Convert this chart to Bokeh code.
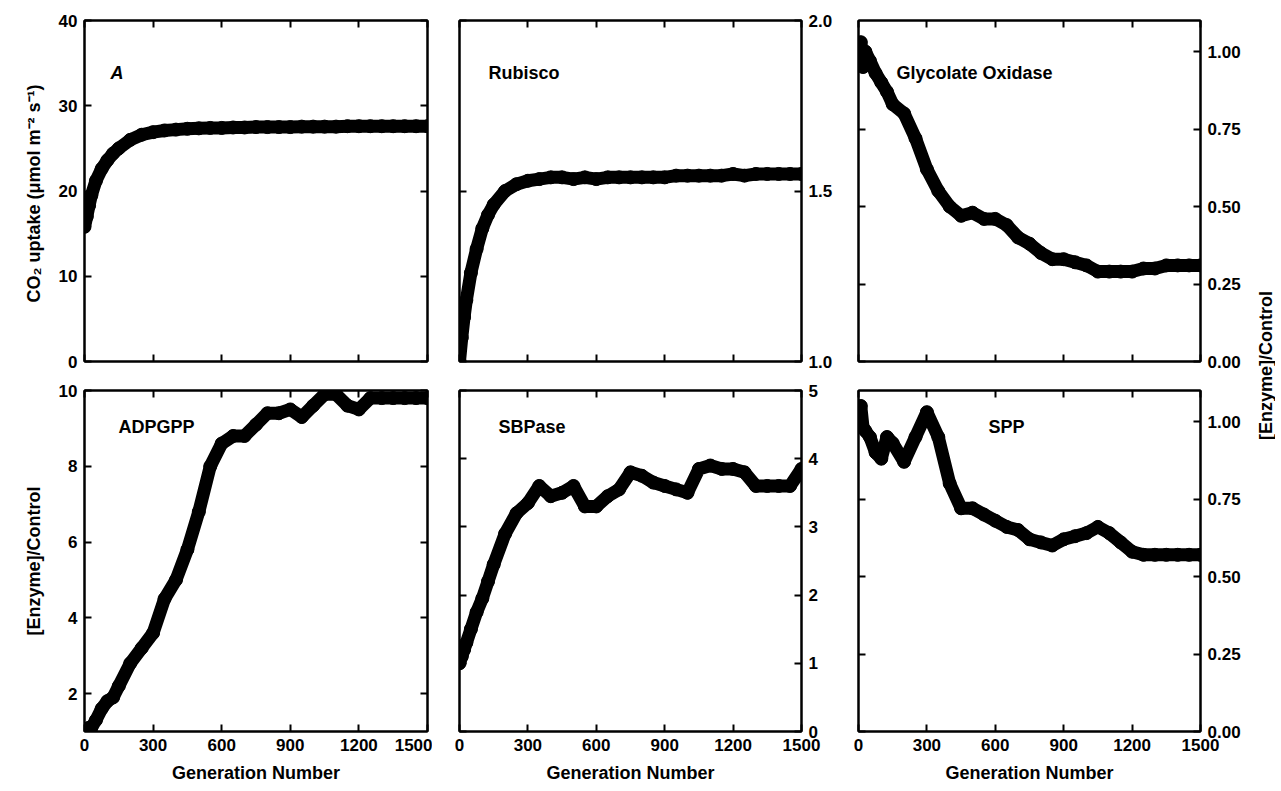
import math
from bokeh.plotting import figure
from bokeh.models import LinearAxis, Range1d, FixedTicker, Label
from bokeh.layouts import row, column
from bokeh.embed import file_html
from bokeh.resources import INLINE

FONT = "Liberation Sans"

# generation numbers (shared)
gen = [0, 10, 20, 30, 50, 75, 100, 125, 150, 200, 250, 300, 350, 400, 450, 500,
       550, 600, 650, 700, 750, 800, 850, 900, 950, 1000, 1050, 1100, 1150,
       1200, 1250, 1300, 1350, 1400, 1450, 1500]

co2_uptake = [15.8, 17.0, 18.3, 19.5, 21.2, 22.6, 23.6, 24.4, 25.0, 26.0, 26.6, 26.9,
              27.1, 27.2, 27.3, 27.35, 27.4, 27.4, 27.45, 27.45, 27.5, 27.5, 27.5,
              27.5, 27.55, 27.55, 27.55, 27.55, 27.6, 27.6, 27.6, 27.6, 27.6, 27.6,
              27.6, 27.6]
rubisco = [1.0, 1.07, 1.13, 1.18, 1.26, 1.33, 1.39, 1.43, 1.46, 1.50, 1.52, 1.53,
           1.535, 1.54, 1.54, 1.535, 1.54, 1.535, 1.54, 1.54, 1.54, 1.54, 1.54,
           1.54, 1.545, 1.545, 1.545, 1.545, 1.545, 1.55, 1.545, 1.55, 1.55,
           1.55, 1.55, 1.55]
glycolate_ox = [1.0, 1.03, 0.95, 1.0, 0.97, 0.93, 0.90, 0.87, 0.83, 0.80, 0.72, 0.62,
                0.55, 0.50, 0.47, 0.48, 0.46, 0.46, 0.44, 0.40, 0.38, 0.35, 0.33,
                0.33, 0.32, 0.31, 0.29, 0.29, 0.29, 0.29, 0.30, 0.30, 0.31, 0.31,
                0.31, 0.31]
adpgpp = [1.0, 1.05, 1.1, 1.1, 1.3, 1.6, 1.8, 1.9, 2.2, 2.8, 3.2, 3.6, 4.5, 5.0,
          5.8, 6.8, 8.0, 8.6, 8.8, 8.8, 9.1, 9.4, 9.4, 9.5, 9.3, 9.6, 9.9, 9.9,
          9.6, 9.5, 9.8, 9.8, 9.8, 9.8, 9.8, 9.8]
sbpase = [1.0, 1.1, 1.2, 1.3, 1.5, 1.75, 1.95, 2.2, 2.45, 2.9, 3.2, 3.35, 3.6, 3.45,
          3.5, 3.6, 3.3, 3.3, 3.45, 3.55, 3.8, 3.75, 3.65, 3.6, 3.55, 3.5, 3.85,
          3.9, 3.85, 3.85, 3.8, 3.6, 3.6, 3.6, 3.6, 3.85]
spp = [1.0, 1.05, 0.98, 0.97, 0.95, 0.90, 0.88, 0.95, 0.93, 0.87, 0.95, 1.03, 0.95,
       0.80, 0.72, 0.72, 0.70, 0.68, 0.66, 0.65, 0.62, 0.61, 0.60, 0.62, 0.63,
       0.64, 0.66, 0.64, 0.61, 0.58, 0.57, 0.57, 0.57, 0.57, 0.57, 0.57]

x_ticks = [0, 300, 600, 900, 1200, 1500]


def style_axis(ax, labels):
    ax.axis_line_width = 2
    ax.major_tick_line_width = 2
    ax.major_tick_in = 7
    ax.major_tick_out = 0
    ax.minor_tick_line_color = None
    ax.major_label_text_font = FONT
    ax.major_label_text_font_style = "bold"
    ax.major_label_text_color = "black"
    ax.major_label_text_font_size = "17px" if labels else "1px"
    ax.major_label_standoff = 7 if labels else 0
    ax.axis_label_text_font = FONT
    ax.axis_label_text_font_style = "bold"
    ax.axis_label_text_color = "black"
    ax.axis_label_text_font_size = "18px"


def panel(xs, ys, y0, y1, yticks, yfmt, side, title, title_italic, frame_h,
          borders, x_labels, ylabel=None, fw=342):
    bl, br, bt, bb = borders
    p = figure(frame_width=fw, frame_height=frame_h,
               x_range=Range1d(0, 1500), y_range=Range1d(y0, y1),
               output_backend="svg", toolbar_location=None,
               x_axis_location=None, y_axis_location=None,
               min_border_left=bl, min_border_right=br,
               min_border_top=bt, min_border_bottom=bb)
    p.grid.visible = False
    p.outline_line_color = "black"
    p.outline_line_width = 2
    for loc, lab in (("below", x_labels), ("above", False)):
        ax = LinearAxis(ticker=FixedTicker(ticks=x_ticks))
        style_axis(ax, lab)
        if lab:
            ax.axis_label = "Generation Number"
            ax.axis_label_standoff = 9
        else:
            ax.major_label_overrides = {t: "" for t in x_ticks}
        p.add_layout(ax, loc)
    for loc in ("left", "right"):
        lab = loc == side
        if lab:
            overrides = {t: (yfmt % t) for t in yticks}
        else:
            overrides = {t: "" for t in yticks}
        ax = LinearAxis(ticker=FixedTicker(ticks=yticks), major_label_overrides=overrides)
        style_axis(ax, lab)
        if lab and ylabel:
            ax.axis_label = ylabel
            ax.axis_label_standoff = 12
        p.add_layout(ax, loc)
    p.line(xs, ys, line_color="black", line_width=13, line_cap="round", line_join="round")
    p.scatter(xs, ys, size=13, color="black")
    p.add_layout(Label(x=title[0], y=frame_h - title[1], x_units="screen", y_units="screen",
                       text=title[2], text_font=FONT, text_font_size="18px",
                       text_color="black",
                       text_font_style="bold italic" if title_italic else "bold",
                       text_baseline="middle"))
    return p


H1, H2 = 341, 341
p1 = panel(gen, co2_uptake, 0, 40, [0, 10, 20, 30, 40], "%d", "left",
           (26, 52, "A"), True, H1, (84, 5, 20, 12), False,
           "CO\u2082 uptake (\u03bcmol m\u207b\u00b2  s\u207b\u00b9)", fw=343)
p2 = panel(gen, rubisco, 1.0, 2.0, [1.0, 1.5, 2.0], "%.1f", "right",
           (29, 52, "Rubisco"), False, H1, (27, 50, 20, 12), False)
p3 = panel(gen, glycolate_ox, 0, 1.1, [0, 0.25, 0.5, 0.75, 1.0], "%.2f", "right",
           (38, 52, "Glycolate Oxidase"), False, H1, (7, 45, 20, 12), False)
p4 = panel(gen, adpgpp, 1, 10, [2, 4, 6, 8, 10], "%d", "left",
           (34, 36, "ADPGPP"), False, H2, (84, 5, 17, 50), True, "[Enzyme]/Control", fw=343)
p5 = panel(gen, sbpase, 0, 5, [0, 1, 2, 3, 4, 5], "%d", "right",
           (39, 36, "SBPase"), False, H2, (27, 50, 17, 50), True)
p6 = panel(gen, spp, 0, 1.1, [0, 0.25, 0.5, 0.75, 1.0], "%.2f", "right",
           (130, 36, "SPP"), False, H2, (7, 45, 17, 50), True)

lab = figure(width=30, height=781, output_backend="svg", toolbar_location=None,
             x_axis_location=None, y_axis_location=None,
             min_border=0, outline_line_color=None)
lab.grid.visible = False
lab.add_layout(Label(x=20, y=416, x_units="screen", y_units="screen", angle=math.pi / 2,
                     text="[Enzyme]/Control", text_font=FONT, text_font_size="18px",
                     text_color="black",
                     text_font_style="bold", text_align="center", text_baseline="middle"))

grid = column(row(p1, p2, p3, spacing=0), row(p4, p5, p6, spacing=0), spacing=0)
layout = row(grid, lab, spacing=0)
open("out.html", "w").write(file_html(layout, INLINE))
